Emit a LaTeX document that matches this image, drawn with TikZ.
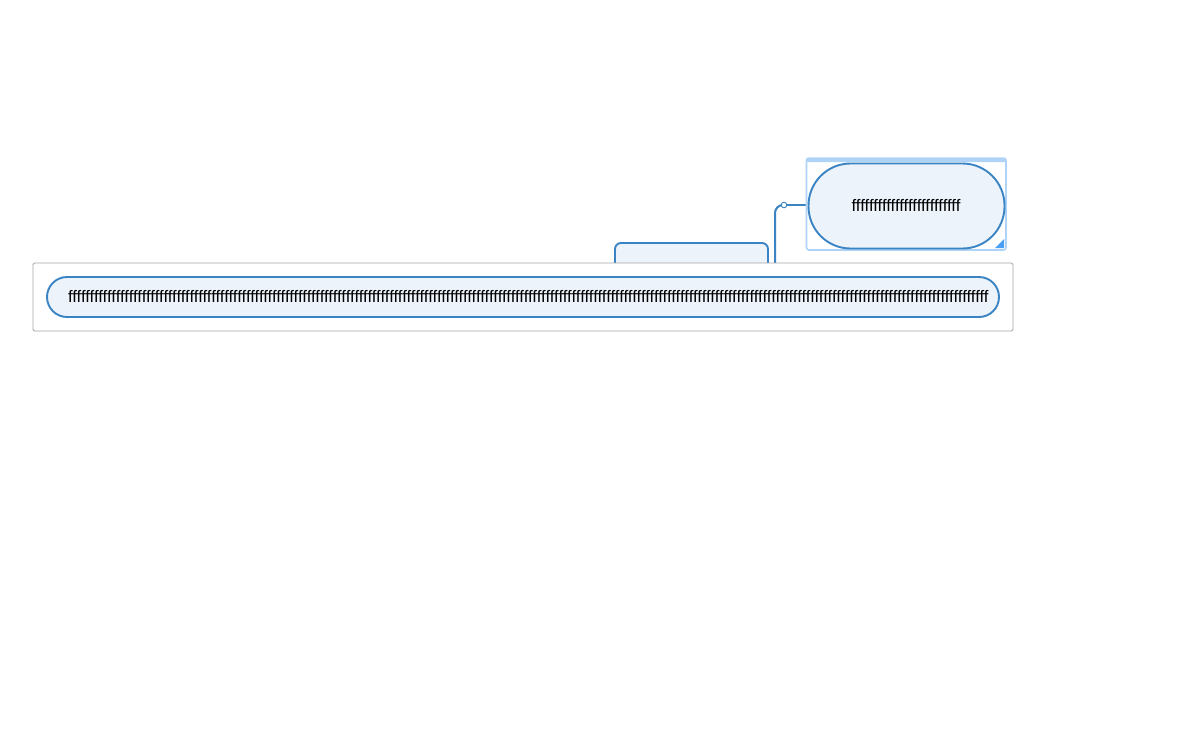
\documentclass[tikz,border=0pt]{standalone}
\usepackage{fontspec}
\setmainfont{Liberation Sans}
\definecolor{nodeblue}{HTML}{3A84C4}
\definecolor{nodefill}{HTML}{ECF3FA}
\definecolor{selblue}{HTML}{AED3F7}
\definecolor{tri}{HTML}{4A9FF5}
\definecolor{framegray}{HTML}{A6A6A6}
\newcommand{\fs}[1]{\foreach \i in {1,...,#1}{f}}
\begin{document}
\begin{tikzpicture}[x=1pt,y=-1pt,
  topic/.style={draw=nodeblue, line width=1.9pt, fill=nodefill},
  conn/.style={draw=nodeblue, line width=2pt},
  txt/.style={font=\fontsize{16.7}{19}\selectfont, text=black, inner sep=0pt}]
\useasboundingbox (0,0) rectangle (1198,737);
\fill[white] (0,0) rectangle (1198,737);
% hidden parent node
\draw[topic, rounded corners=6pt] (615,290) -- (615,243) -- (768,243) -- (768,290);
\coordinate (cstart) at (775,270);
\coordinate (cdot) at (784,205);
\coordinate (cend) at (806,205);
\draw[conn, rounded corners=8pt] (cstart) -- (775,205) -- (cdot);
\draw[conn] (cdot) -- (cend);
\draw[nodeblue, line width=0.9pt, fill=white] (cdot) circle (2.8);
% frame of main topic
\draw[framegray, line width=0.9pt, fill=white, rounded corners=1.5pt] (33,263) rectangle (1013,331);
\draw[topic, rounded corners=20pt] (47,277) rectangle (999,317);
\node[txt] (main) at (528,296.5) {\fs{212}};
% selection box
\draw[selblue, line width=1.6pt, rounded corners=2.5pt] (806.5,158.5) rectangle (1006,250);
\fill[selblue, rounded corners=2pt] (806,157.5) rectangle (1006.5,162);
\draw[topic, rounded corners=42pt] (808.5,163.5) rectangle (1004.5,248.5);
\node[txt] (sub) at (906,205.5) {\fs{25}};
\fill[tri] (1004,239) -- (1004,248) -- (995,248) -- cycle;
\end{tikzpicture}
\end{document}
